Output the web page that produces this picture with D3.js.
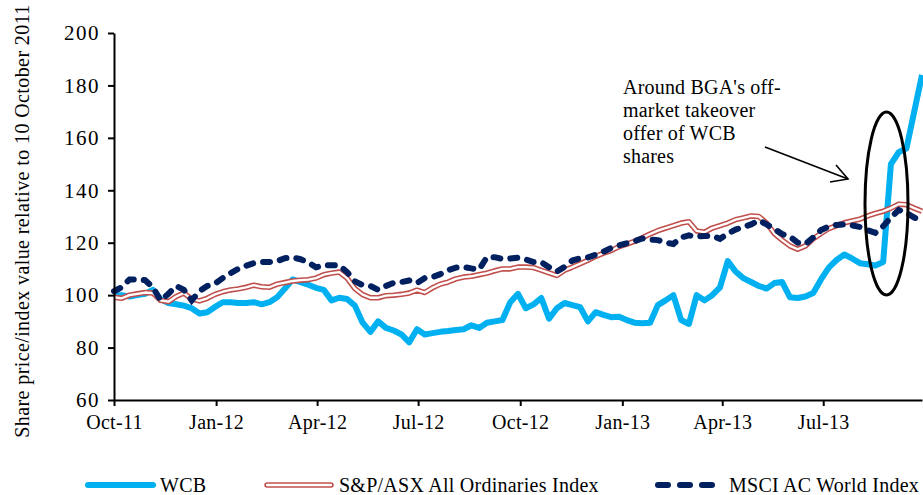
<!DOCTYPE html>
<html>
<head>
<meta charset="utf-8">
<script src="https://cdn.jsdelivr.net/npm/d3@7"></script>
<style>
  body { margin: 0; background: #fff; }
  svg text { font-family: "Liberation Serif", "Times New Roman", serif; fill: #000; }
</style>
</head>
<body>
<div class="chart"></div>
<script>
// weekly observations from 10 October 2011
var startDate = new Date(2011, 9, 10);
var weeks = d3.range(105).map(function (i) { return d3.timeDay.offset(startDate, 7 * i); });

var wcb = [100, 100, 99.5, 100, 100.5, 102, 98.5, 97, 96.5, 96, 95, 93, 93.5, 95.5, 97.3, 97.3, 97, 97, 97.3, 96.5,
	97.3, 99.2, 102.5, 106, 105, 104, 102.8, 102, 98, 99, 98.5, 96, 89.5, 86, 90, 87.5, 86.5, 85, 82, 87,
	85, 85.5, 86, 86.3, 86.7, 87, 88.5, 87.5, 89.5, 90, 90.5, 97.3, 100.5, 95, 96.5, 98.9, 91, 95, 97, 96.2,
	95.4, 90, 93.5, 92.5, 91.6, 91.8, 90.5, 89.5, 89.3, 89.5, 96.2, 98, 100, 90.5, 89, 100, 98, 100, 103, 113,
	109, 106.5, 105, 103.5, 102.5, 104.6, 105, 99.2, 98.9, 99.5, 100.8, 106, 110.5, 113.4, 115.5, 114, 112.2, 111.8, 111.3, 112.6,
	150, 154.5, 156, 170, 184];

var asx = [99.2, 98.8, 100, 100.5, 101, 100.8, 98, 97.5, 99.5, 100.8, 98.5, 97.8, 98.8, 100.3, 101.3, 102, 102.4, 103, 103.8, 103.2,
	103, 104.2, 104.8, 105.4, 105.7, 105.9, 106.5, 107.8, 108.4, 108.8, 106.5, 102.5, 100.2, 99, 99, 99.8, 100, 100.3, 100.8, 101.9,
	101, 102.8, 104.2, 105, 106.2, 106.9, 107.2, 107.8, 108.4, 109.3, 110, 110, 110.7, 110.7, 110.5, 109.5, 108.5, 107.5, 109.5, 110.7,
	112, 113.3, 114.8, 116, 117, 118.5, 119.5, 120.5, 121.9, 123.3, 124.6, 125.6, 126.5, 127.5, 128, 124.5, 124, 125.6, 126.5, 127.5,
	128.8, 129.5, 130.2, 130, 127.5, 123.5, 121, 118.8, 117.5, 118.8, 121.5, 123.5, 125.4, 126.5, 127.6, 128.3, 129, 130.2, 131.2, 132,
	133.2, 134.7, 134.5, 133.2, 132];

var msci = [101.5, 103, 106, 106, 105.7, 103, 98, 100.5, 103.5, 102, 98, 101.5, 103.5, 104.4, 106.5, 108.4, 110, 111.2, 112.2, 112.6,
	112.6, 113, 114.1, 114.4, 113.7, 112.5, 110.6, 111.4, 111.4, 111.4, 108.8, 105.3, 103.8, 103.5, 102, 103.5, 104.7, 105, 105.6, 104.6,
	106.5, 106.9, 108, 109.5, 110.5, 110.7, 110.2, 109.8, 114.5, 114.5, 113.8, 114, 114.3, 113.6, 112.6, 112.6, 110.6, 109, 110.8, 113.2,
	114.1, 114.4, 115.4, 116.6, 118, 119, 119.8, 120.6, 121.6, 121.2, 121, 120, 119.5, 122, 122.8, 122.3, 122.6, 122.6, 121.5, 123.5,
	125, 126, 127, 128.5, 127, 125.2, 123.3, 122.3, 120, 119.5, 122, 124.8, 126.2, 126.8, 127, 126.6, 126, 124.8, 123.8, 126.3,
	129.6, 132.5, 131.4, 129.6, 128.3];

var yTicks = [60, 80, 100, 120, 140, 160, 180, 200];
var xTickDates = [new Date(2011, 9, 10), new Date(2012, 0, 10), new Date(2012, 3, 10), new Date(2012, 6, 10),
	new Date(2012, 9, 10), new Date(2013, 0, 10), new Date(2013, 3, 10), new Date(2013, 6, 10)];
var seriesNames = ["WCB", "S&P/ASX All Ordinaries Index", "MSCI AC World Index"];
var noteLines = ["Around BGA's off-", "market takeover", "offer of WCB", "shares"];

var width = 923, height = 495;
var margin = { top: 33, right: 1, bottom: 95, left: 114 };

var svg = d3.select('.chart')
	.append('svg')
	.attr('width', width)
	.attr('height', height);

var xScale = d3.scaleTime()
	.domain([weeks[0], weeks[weeks.length - 1]])
	.range([margin.left, width - margin.right]);

var yScale = d3.scaleLinear()
	.domain([60, 200])
	.range([height - margin.bottom, margin.top]);

var line = function (vals) {
	return d3.line()
		.x(function (d, i) { return xScale(weeks[i]); })
		.y(function (d) { return yScale(d); })(vals);
};

// series
var gLines = svg.append('g').attr('class', 'lines');

gLines.append('path')
	.attr('d', line(wcb))
	.attr('fill', 'none')
	.attr('stroke', '#00B0F0')
	.attr('stroke-width', 6)
	.attr('stroke-linejoin', 'round');

gLines.append('path')
	.attr('d', line(asx))
	.attr('fill', 'none')
	.attr('stroke', '#C0504D')
	.attr('stroke-width', 5.5)
	.attr('stroke-linejoin', 'round');
gLines.append('path')
	.attr('d', line(asx))
	.attr('fill', 'none')
	.attr('stroke', '#fff')
	.attr('stroke-width', 2.3)
	.attr('stroke-linejoin', 'round');

gLines.append('path')
	.attr('d', line(msci))
	.attr('fill', 'none')
	.attr('stroke', '#002060')
	.attr('stroke-width', 6)
	.attr('stroke-linecap', 'round')
	.attr('stroke-dasharray', '7,10');

// axes
var yAxis = d3.axisLeft(yScale)
	.tickValues(yTicks)
	.tickSize(6)
	.tickSizeOuter(0)
	.tickPadding(8);

var xAxis = d3.axisBottom(xScale)
	.tickValues(xTickDates)
	.tickFormat(d3.timeFormat('%b-%y'))
	.tickSize(6)
	.tickSizeOuter(0)
	.tickPadding(9);

var gy = svg.append('g')
	.attr('class', 'y axis')
	.attr('transform', 'translate(' + margin.left + ',0)')
	.call(yAxis);

var gx = svg.append('g')
	.attr('class', 'x axis')
	.attr('transform', 'translate(0,' + (height - margin.bottom) + ')')
	.call(xAxis);

svg.selectAll('.axis path, .axis line')
	.attr('stroke', '#000')
	.attr('stroke-width', 2);
svg.selectAll('.axis text')
	.attr('font-size', 20)
	.attr('font-family', '"Liberation Serif", "Times New Roman", serif')
	.attr('fill', '#000');
gy.selectAll('text')
	.attr('font-size', 21)
	.attr('letter-spacing', 1.5);
gx.selectAll('text')
	.attr('letter-spacing', 0.3);

svg.append('text')
	.attr('transform', 'translate(29,221) rotate(-90)')
	.attr('text-anchor', 'middle')
	.attr('font-size', 20)
	.attr('letter-spacing', 0.4)
	.text('Share price/index value relative to 10 October 2011');

// annotation
svg.append('g')
	.attr('class', 'note')
	.selectAll('text')
	.data(noteLines)
	.enter().append('text')
	.attr('x', 623)
	.attr('y', function (d, i) { return 94 + i * 23; })
	.attr('font-size', 20)
	.attr('letter-spacing', 0.2)
	.text(function (d) { return d; });

svg.append('line')
	.attr('x1', 765).attr('y1', 147)
	.attr('x2', 848).attr('y2', 179)
	.attr('stroke', '#000').attr('stroke-width', 1.6);
svg.append('path')
	.attr('d', 'M836,165 L848,179 L830,182')
	.attr('fill', 'none')
	.attr('stroke', '#000').attr('stroke-width', 1.6);

svg.append('ellipse')
	.attr('cx', 886.5).attr('cy', 203.5)
	.attr('rx', 21.5).attr('ry', 91.5)
	.attr('fill', 'none')
	.attr('stroke', '#000').attr('stroke-width', 3);

// legend
var legendY = 485;
var legend = svg.append('g').attr('class', 'legend');

legend.append('line')
	.attr('x1', 88).attr('x2', 153).attr('y1', legendY).attr('y2', legendY)
	.attr('stroke', '#00B0F0').attr('stroke-width', 6).attr('stroke-linecap', 'round');

legend.append('line')
	.attr('x1', 267).attr('x2', 331).attr('y1', legendY).attr('y2', legendY)
	.attr('stroke', '#C0504D').attr('stroke-width', 5.5).attr('stroke-linecap', 'round');
legend.append('line')
	.attr('x1', 267).attr('x2', 331).attr('y1', legendY).attr('y2', legendY)
	.attr('stroke', '#fff').attr('stroke-width', 2.3).attr('stroke-linecap', 'round');

legend.append('line')
	.attr('x1', 658).attr('x2', 716).attr('y1', legendY).attr('y2', legendY)
	.attr('stroke', '#002060').attr('stroke-width', 6).attr('stroke-linecap', 'round')
	.attr('stroke-dasharray', '10,12');

legend.selectAll('text.lab')
	.data(seriesNames)
	.enter().append('text')
	.attr('class', 'lab')
	.attr('x', function (d, i) { return [160, 339, 729][i]; })
	.attr('y', legendY + 7)
	.attr('font-size', 20)
	.attr('letter-spacing', 0.25)
	.text(function (d) { return d; });
</script>
</body>
</html>
